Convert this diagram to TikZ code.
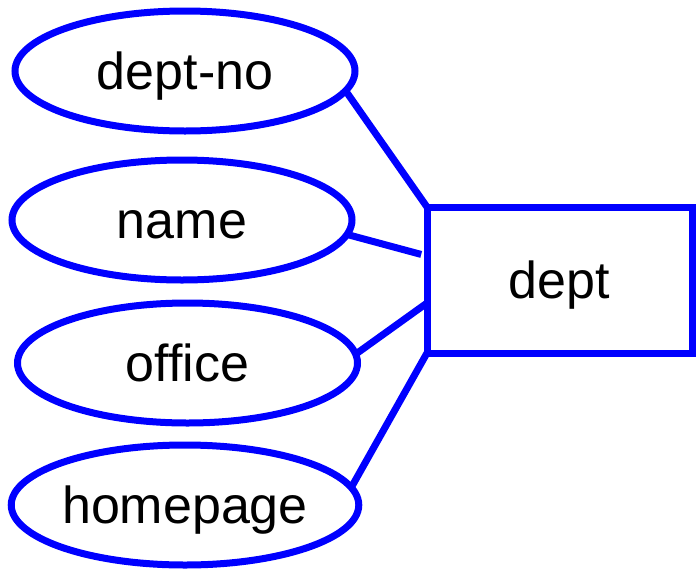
\documentclass[tikz,border=0pt]{standalone}
\usepackage{fontspec}
\setmainfont{Liberation Sans}
\usetikzlibrary{shapes.geometric}
\definecolor{erblue}{RGB}{0,0,255}
\begin{document}
\begin{tikzpicture}[x=1pt,y=-1pt,
  attr/.style={ellipse, draw=erblue, line width=7pt, inner sep=0pt, outer sep=0pt,
    minimum width=340pt, minimum height=120pt, text height=37pt, text depth=0pt,
    font=\fontsize{52}{60}\selectfont},
  ent/.style={rectangle, draw=erblue, line width=7pt, inner sep=0pt, outer sep=0pt,
    minimum width=265pt, minimum height=146pt, text height=37pt, text depth=0pt,
    font=\fontsize{52}{60}\selectfont},
  conn/.style={draw=erblue, line width=7pt}]
\useasboundingbox (0,0) rectangle (696,568);
\node[attr] (dn) at (185,71) {dept-no};
\node[attr] (nm) at (182,220) {name};
\node[attr] (of) at (187.5,363) {office};
\node[attr] (hp) at (185,505) {homepage};
\node[ent] (d) at (559.5,280) {dept};
\draw[conn] (dn.-7.7) -- (d.north west);
\draw[conn, shorten >=6pt] (nm.-5.7) -- ([yshift=24pt]d.west);
\draw[conn] (of.3.9) -- ([yshift=-23pt]d.west);
\draw[conn] (hp.6) -- (d.south west);
\end{tikzpicture}
\end{document}
